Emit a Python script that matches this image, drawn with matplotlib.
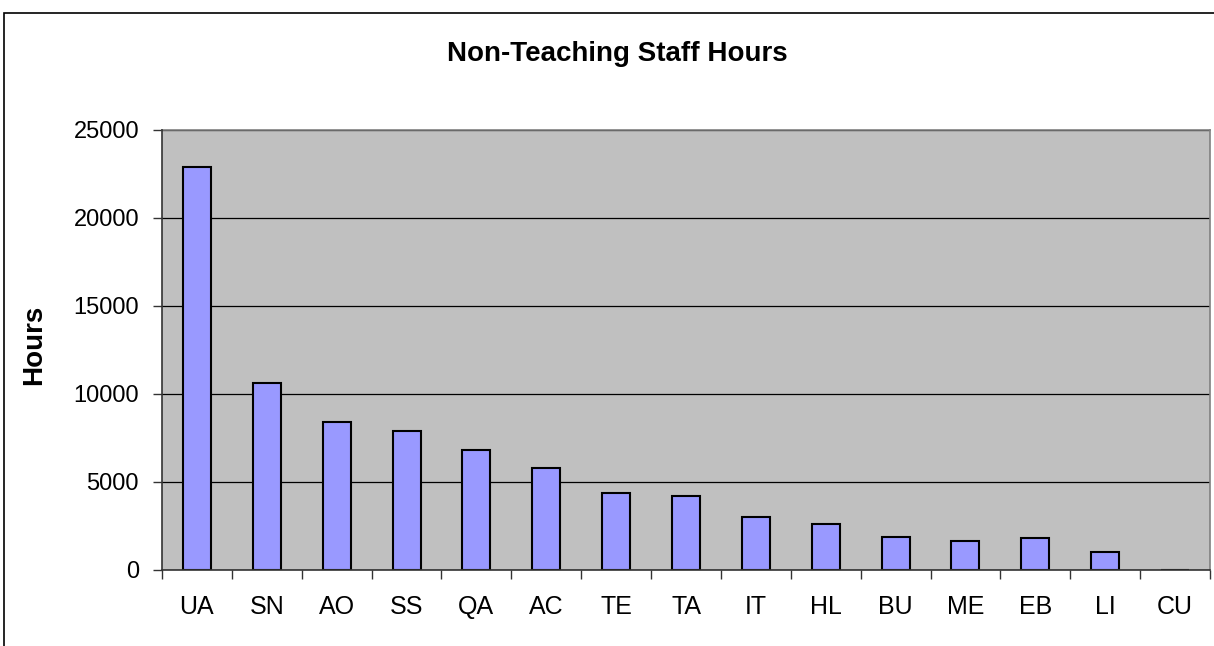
import matplotlib.pyplot as plt
import matplotlib.patches as mpatches
import numpy as np

plt.rcParams['font.family'] = ['Liberation Sans', 'DejaVu Sans']

categories = ["UA", "SN", "AO", "SS", "QA", "AC", "TE", "TA", "IT", "HL", "BU", "ME", "EB", "LI", "CU"]
hours = [22880, 10600, 8400, 7900, 6800, 5800, 4400, 4200, 3000, 2600, 1850, 1670, 1800, 1050, 0]
y_ticks = [0, 5000, 10000, 15000, 20000, 25000]

fig = plt.figure(figsize=(12.14, 6.46), dpi=100)
ax = fig.add_axes([162 / 1214, 1 - 570 / 646, 1048 / 1214, 440 / 646])

x = np.arange(len(categories))
ax.bar(x, hours, width=0.4, color="#9999FF", edgecolor="black", linewidth=1.5, zorder=2)

ax.set_facecolor("#C0C0C0")
ax.set_xlim(-0.5, len(categories) - 0.5)
ax.set_ylim(0, 25000)
ax.set_yticks(y_ticks)
ax.set_yticklabels([str(v) for v in y_ticks], fontsize=17)
ax.yaxis.grid(True, color="black", linewidth=0.9, zorder=1)

# ticks between categories, labels at centres
ax.set_xticks(np.arange(len(categories) + 1) - 0.5)
ax.set_xticklabels([])
ax.set_xticks(x, minor=True)
ax.set_xticklabels(categories, minor=True, fontsize=18)
ax.tick_params(axis="x", which="major", length=6.5, width=1, color="#333333", direction="out")
ax.tick_params(axis="x", which="minor", length=0, pad=18)
ax.tick_params(axis="y", length=6.5, width=1, color="#333333", direction="out", pad=10)

for side in ["top", "right"]:
    ax.spines[side].set_color("#808080")
    ax.spines[side].set_linewidth(1.2)
for side in ["left", "bottom"]:
    ax.spines[side].set_color("#333333")
    ax.spines[side].set_linewidth(1.2)
    ax.spines[side].set_zorder(3)

fig.text(34 / 1214, 1 - 345 / 646, "Hours", rotation=90, ha="center", va="center",
         fontsize=20, fontweight="bold")
fig.text(617 / 1214, 1 - 54 / 646, "Non-Teaching Staff Hours", ha="center", va="center",
         fontsize=20, fontweight="bold")

# outer chart border
border = mpatches.Rectangle((4 / 1214, -0.1), 1.2, 1 - 13 / 646 + 0.1, transform=fig.transFigure,
                            fill=False, edgecolor="black", linewidth=1.2)
fig.patches.append(border)

fig.savefig("out.png", dpi=100)
